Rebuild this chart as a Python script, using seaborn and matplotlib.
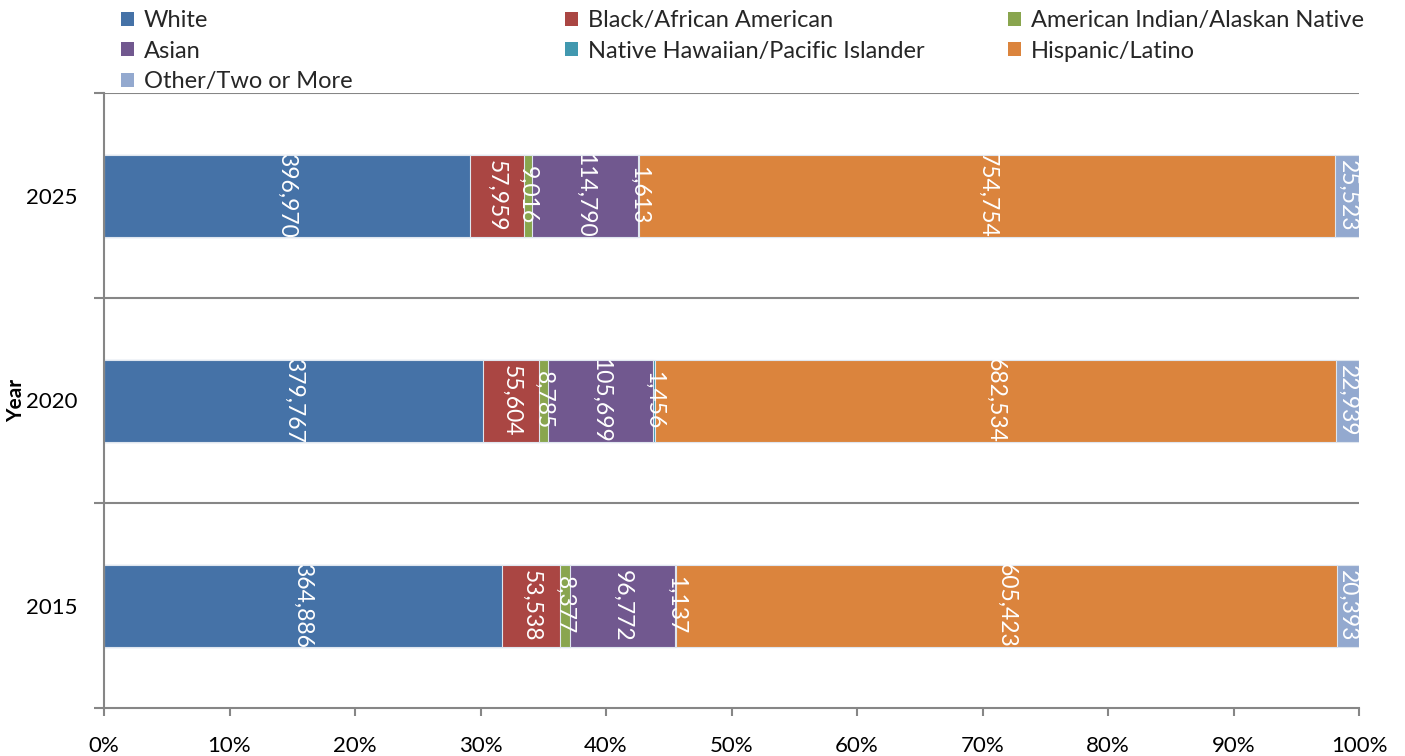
import matplotlib
matplotlib.use("Agg")
import matplotlib.pyplot as plt
from matplotlib.patches import Patch
import seaborn as sns
import pandas as pd
import numpy as np

years = ["2025", "2020", "2015"]
groups = ["White", "Black/African American", "American Indian/Alaskan Native",
          "Asian", "Native Hawaiian/Pacific Islander", "Hispanic/Latino",
          "Other/Two or More"]
white = [396970, 379767, 364886]
black = [57959, 55604, 53538]
amind = [9016, 8785, 8377]
asian = [114790, 105699, 96772]
nhpi = [1613, 1456, 1137]
hispanic = [754754, 682534, 605423]
other = [25523, 22939, 20393]
colors = ["#4572A7", "#AA4643", "#89A54E", "#71588F", "#4198AF", "#DB843D", "#93A9CF"]
xticks = [0, 10, 20, 30, 40, 50, 60, 70, 80, 90, 100]

sns.set_theme(style="white")
plt.rcParams['font.family'] = ['Lato', 'DejaVu Sans']

series = [white, black, amind, asian, nhpi, hispanic, other]
vals = np.array(series, dtype=float)  # groups x years
totals = vals.sum(axis=0)
pct = vals / totals * 100
cum = np.cumsum(pct, axis=0)

fig = plt.figure(figsize=(14.05, 7.56), dpi=100)
ax = fig.add_axes([104/1405, 1-708/756, (1359-104)/1405, (708-93)/756])

# draw from last cumulative to first so each segment is visible
for i in range(len(groups)-1, -1, -1):
    df = pd.DataFrame({"year": years, "cum": cum[i]})
    sns.barplot(data=df, x="cum", y="year", order=years, orient="h",
                color=colors[i], saturation=1, width=0.4, ax=ax,
                edgecolor="#dfe6ef", linewidth=0.8)

# data labels
for i in range(len(groups)):
    for j, yr in enumerate(years):
        left = cum[i, j] - pct[i, j]
        xc = left + pct[i, j] / 2
        ax.text(xc, j, f"{int(vals[i, j]):,}", rotation=270, color="white",
                ha="center", va="center", fontsize=16.5, rotation_mode="anchor")

ax.set_xlim(0, 100)
ax.set_ylim(2.5, -0.5)
ax.set_xticks(xticks)
ax.set_xticklabels([f"{t}%" for t in xticks], fontsize=16, color="black")
ax.set_yticks(range(len(years)))
ax.set_yticklabels(years, fontsize=16, color="black")
ax.tick_params(axis="y", which="major", length=0, pad=19)
ax.set_yticks([-0.5, 0.5, 1.5, 2.5], minor=True)
ax.tick_params(axis="y", which="minor", length=7, width=1.5, color="#868686", left=True)
ax.tick_params(axis="x", which="major", length=6, width=1.5, color="#868686", bottom=True, pad=14)
ax.grid(False)
for yb in [-0.5, 0.5, 1.5]:
    ax.axhline(yb, color="#868686", lw=1.5, zorder=0)
for s in ["top", "right"]:
    ax.spines[s].set_visible(False)
for s in ["left", "bottom"]:
    ax.spines[s].set_color("#868686")
    ax.spines[s].set_linewidth(1.5)

ax.set_xlabel("")
ax.set_ylabel("Year", fontsize=15, fontweight="bold", color="black")
ax.yaxis.set_label_coords(-0.062, 0.5)

# legend, three columns placed like the reference
handles = [Patch(facecolor=c, edgecolor="none") for c in colors]
cols = [[0, 3, 6], [1, 4], [2, 5]]
xs = [107, 551, 994]
for xpos, idx in zip(xs, cols):
    fig.legend([handles[k] for k in idx], [groups[k] for k in idx],
               loc="upper left", bbox_to_anchor=(xpos/1405, 1.0 + 4/756),
               frameon=False, fontsize=17, handlelength=0.55, handleheight=0.55,
               handletextpad=0.4, labelspacing=0.4, borderaxespad=0.2)

fig.savefig("out.png", dpi=100)
